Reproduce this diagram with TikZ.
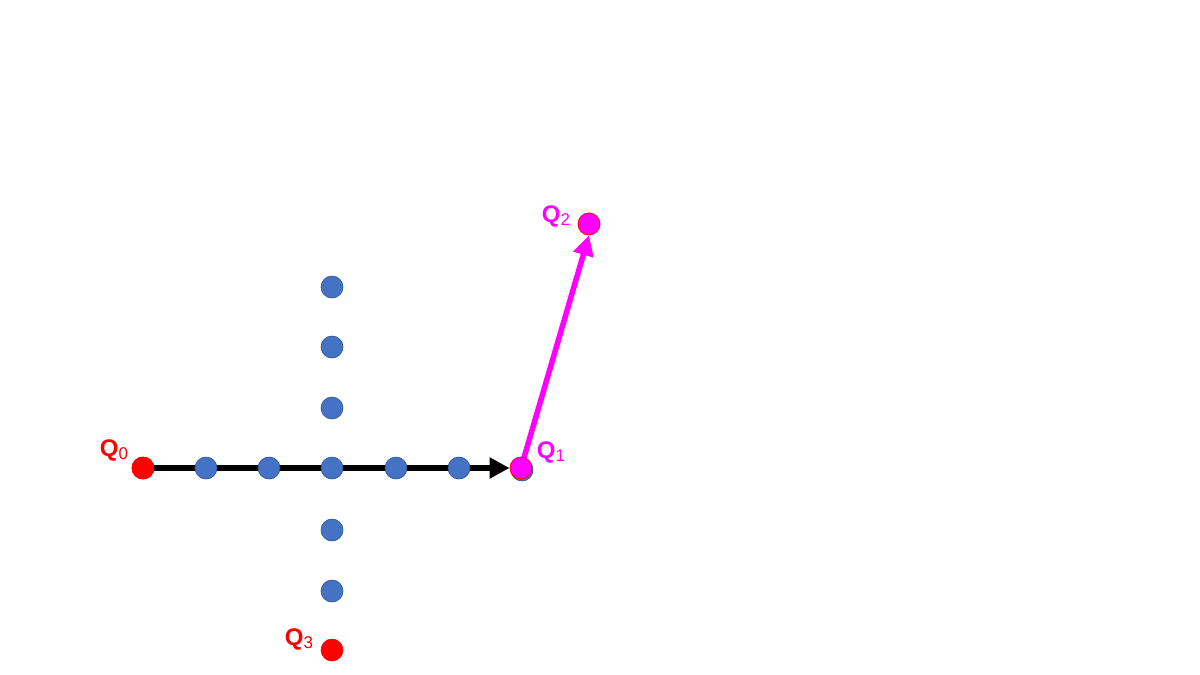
\documentclass[tikz,border=0pt]{standalone}
\usepackage{fontspec}
\setmainfont{Liberation Sans}
\usetikzlibrary{arrows.meta}
\definecolor{dotblue}{HTML}{4472C4}
\definecolor{dotedge}{HTML}{2F528F}
\definecolor{qred}{HTML}{FF0000}
\definecolor{qmag}{HTML}{FF00FF}
\begin{document}
\begin{tikzpicture}[x=1pt,y=-1pt,
  bdot/.style={circle,fill=dotblue,draw=dotedge,line width=0.6pt,minimum size=22pt,inner sep=0pt},
  rdot/.style={circle,fill=qred,draw=qred,line width=0.6pt,minimum size=22pt,inner sep=0pt},
  mdot/.style={circle,fill=qmag,draw=qred,line width=0.8pt,minimum size=22pt,inner sep=0pt},
  qlab/.style={inner sep=0pt,font=\fontsize{24}{27}\selectfont\bfseries},
  arr/.style={-{Triangle[length=20pt,width=20pt]}}]
\useasboundingbox (0,0) rectangle (1200,675);
\fill[white] (0,0) rectangle (1200,675);
\coordinate (p1) at (521,468);
% arrow Q0 -> Q1
\node[rdot] (Q0) at (143,468) {};
\node[mdot,draw=none,fill=none] (Q1s) at (521,468) {};
\draw[arr,black,line width=6.5pt] (Q0.center) -- (Q1s.west);
% blue dots
\node[bdot] (h1) at (206,468) {};
\node[bdot] (h2) at (269,468) {};
\node[bdot] (c) at (332,468) {};
\node[bdot] (h4) at (396,468) {};
\node[bdot] (h5) at (459,468) {};
\node[bdot] (h6) at (522,470) {};
\node[bdot] (v1) at (332,287) {};
\node[bdot] (v2) at (332,347) {};
\node[bdot] (v3) at (332,408) {};
\node[bdot] (v5) at (332,530) {};
\node[bdot] (v6) at (332,591) {};
\node[rdot] (Q0) at (143,468) {};
\node[rdot] (Q3) at (332,650) {};
\node[mdot] (Q2) at (589,224) {};
\draw[arr,qmag,line width=5.5pt] (p1) -- (Q2.south);
\node[mdot] (Q1) at (521,468) {};
% labels
\node[qlab,text=qred] (L0) at (114,450) {Q\raisebox{-3pt}{\fontsize{17}{19}\selectfont\mdseries 0}};
\node[qlab,text=qmag] (L1) at (551,452) {Q\raisebox{-3pt}{\fontsize{17}{19}\selectfont\mdseries 1}};
\node[qlab,text=qmag] (L2) at (556,216) {Q\raisebox{-3pt}{\fontsize{17}{19}\selectfont\mdseries 2}};
\node[qlab,text=qred] (L3) at (299,639) {Q\raisebox{-3pt}{\fontsize{17}{19}\selectfont\mdseries 3}};
\end{tikzpicture}
\end{document}
